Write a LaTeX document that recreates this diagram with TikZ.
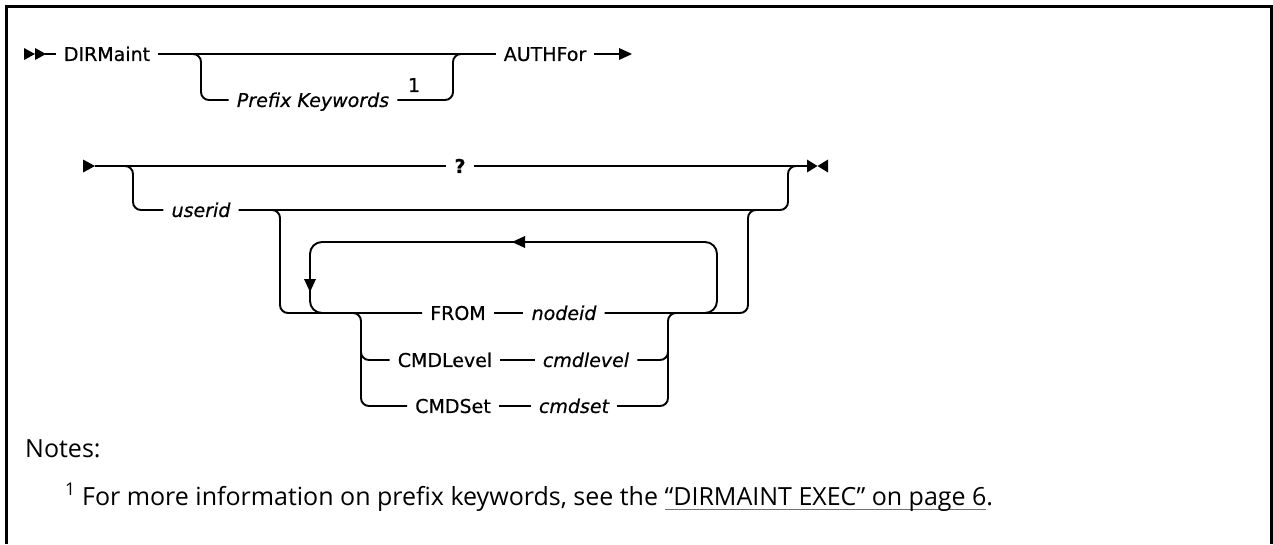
\documentclass[tikz,border=0pt]{standalone}
\usepackage{fontspec}
\setmainfont{DejaVu Sans}
\newfontfamily\diagfont{DejaVu Sans}[FakeBold=0.6]
\newfontfamily\notefont{Open Sans}
\definecolor{linkblue}{RGB}{80,115,190}
\newsavebox\linkbox
\tikzset{
  trk/.style={line width=1.9pt, rounded corners=8pt},
  kw/.style={font=\diagfont\fontsize{19}{19}\selectfont, inner xsep=8pt, inner ysep=0pt, text height=13.9pt, text depth=0pt},
  var/.style={kw, font=\diagfont\fontsize{19}{19}\selectfont\itshape},
  notetext/.style={anchor=base west, inner sep=0pt, font=\notefont\fontsize{25}{25}\selectfont}
}
\begin{document}
\begin{tikzpicture}[x=1pt,y=-1pt]
\useasboundingbox (0,0) rectangle (1273,544);
% frame
\draw[line width=2.2pt] (6.5,544) -- (6.5,6.5) -- (1271.5,6.5) -- (1271.5,544);

% ---------- row 1 ----------
\node[kw] (dirm) at (107,54) {DIRMaint};
\node[var] (pref) at (313,100) {Prefix Keywords};
\node[kw, inner sep=0pt] (n1) at (414,85) {1};
\node[kw] (auth) at (545,54) {AUTHFor};
\coordinate (s1) at (45,54);
\coordinate (j1) at (189,54);
\coordinate (j2) at (465,54);
\coordinate (e1) at (620,54);
\fill (24,48) -- (35,54) -- (24,60) -- cycle;
\fill (35,48) -- (46,54) -- (35,60) -- cycle;
\draw[trk] (s1) -- (dirm.west);
\draw[trk] (dirm.east) -- (auth.west);
\draw[trk] (j1) -- (201,54) -- (201,100) -- (pref.west);
\draw[trk] (pref.east) -- (453,100) -- (453,54) -- (j2);
\draw[trk] (auth.east) -- (e1);
\fill (619,48) -- (632,54) -- (619,60) -- cycle;

% ---------- row 2 ----------
\node[kw, font=\diagfont\fontsize{19}{19}\selectfont\bfseries] (q) at (460,166) {?};
\node[var] (uid) at (201,210) {userid};
\node[kw] (from) at (458,313) {FROM};
\node[var] (nid) at (564,313) {nodeid};
\node[kw] (cmdl) at (445,360) {CMDLevel};
\node[var] (cmdlv) at (586,360) {cmdlevel};
\node[kw] (cmds) at (453,406) {CMDSet};
\node[var] (cmdsv) at (574,406) {cmdset};
\coordinate (s2) at (95,166);
\coordinate (e2) at (807,166);
\coordinate (ja) at (121,166);
\coordinate (jb) at (800,166);
\coordinate (jc) at (268,210);
\coordinate (jd) at (760,210);
\coordinate (je) at (349,313);
\coordinate (jf) at (680,313);
\coordinate (jg) at (361,345);
\coordinate (jh) at (668,345);
\coordinate (li) at (705,313);
\coordinate (lo) at (323,313);

\fill (83,159.5) -- (95,166) -- (83,172.5) -- cycle;
\draw[trk] (s2) -- (q.west);
\draw[trk] (q.east) -- (e2);
\fill (807,159.5) -- (817.5,166) -- (807,172.5) -- cycle;
\fill (828,159.5) -- (817.5,166) -- (828,172.5) -- cycle;

\draw[trk] (ja) -- (133,166) -- (133,210) -- (uid.west);
\draw[trk] (uid.east) -- (788,210) -- (788,166) -- (jb);
\draw[trk] (jc) -- (280,210) -- (280,313) -- (from.west);
\draw[trk] (from.east) -- (nid.west);
\draw[trk] (nid.east) -- (748,313) -- (748,210) -- (jd);

% choice
\draw[trk] (je) -- (361,313) -- (361,406) -- (cmds.west);
\draw[trk] (jg) -- (361,360) -- (cmdl.west);
\draw[trk] (cmdl.east) -- (cmdlv.west);
\draw[trk] (cmds.east) -- (cmdsv.west);
\draw[trk] (cmdsv.east) -- (668,406) -- (668,313) -- (jf);
\draw[trk] (cmdlv.east) -- (668,360) -- (jh);

% repeat loop
\draw[trk, rounded corners=12pt] (li) -- (717,313) -- (717,242) -- (310,242) -- (310,313) -- (lo);
\fill (525,236) -- (512,242) -- (525,248) -- cycle;
\fill (304,279) -- (310,292) -- (316,279) -- cycle;

% ---------- notes ----------
\node[notetext] (notes) at (25,457) {Notes:};
\node[notetext] (fn) at (65,505) {\sbox\linkbox{“DIRMAINT EXEC” on page 6}\textsuperscript{1} For more information on prefix keywords, see the \rlap{\color{linkblue}\rule[-5pt]{\wd\linkbox}{1.3pt}}\usebox\linkbox.};
\end{tikzpicture}
\end{document}
